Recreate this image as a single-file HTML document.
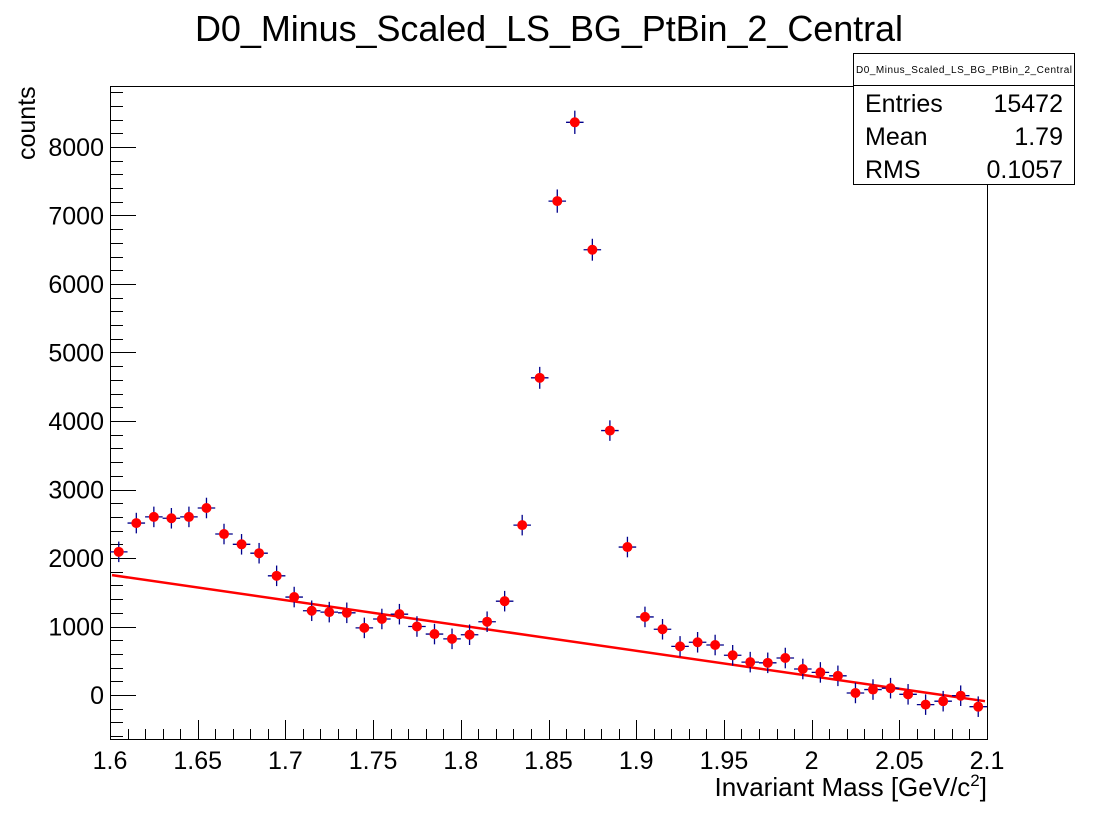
<!DOCTYPE html>
<html><head><meta charset="utf-8"><style>
body{margin:0;background:#fff;}
svg text{font-family:"Liberation Sans",sans-serif;}
</style></head><body>
<svg id="c" width="1096" height="822" xmlns="http://www.w3.org/2000/svg">
<rect width="1096" height="822" fill="#fff"/>
<text x="549" y="41" font-size="36" text-anchor="middle" textLength="708">D0_Minus_Scaled_LS_BG_PtBin_2_Central</text>
<g id="axes"></g>
<g id="fit"></g>
<g id="marks"></g>
<text x="987" y="796" font-size="26" text-anchor="end">Invariant Mass [GeV/c<tspan dy="-10" font-size="17">2</tspan><tspan dy="10">]</tspan></text>
<text transform="translate(35,160) rotate(-90)" font-size="25">counts</text>
<g>
<rect x="853.5" y="53.5" width="221" height="131" fill="#fff" stroke="#000" stroke-width="1"/>
<line x1="853.5" y1="85.5" x2="1074.5" y2="85.5" stroke="#000"/>
<text x="964" y="73" font-size="10" text-anchor="middle" textLength="216">D0_Minus_Scaled_LS_BG_PtBin_2_Central</text>
<text x="865" y="112" font-size="25">Entries</text><text x="1063" y="112" font-size="25" text-anchor="end">15472</text>
<text x="865" y="145" font-size="25">Mean</text><text x="1063" y="145" font-size="25" text-anchor="end">1.79</text>
<text x="865" y="178" font-size="25">RMS</text><text x="1063" y="178" font-size="25" text-anchor="end">0.1057</text>
</g>
</svg>
<script>
const binCenters=[1.605,1.615,1.625,1.635,1.645,1.655,1.665,1.675,1.685,1.695,1.705,1.715,1.725,1.735,1.745,1.755,1.765,1.775,1.785,1.795,1.805,1.815,1.825,1.835,1.845,1.855,1.865,1.875,1.885,1.895,1.905,1.915,1.925,1.935,1.945,1.955,1.965,1.975,1.985,1.995,2.005,2.015,2.025,2.035,2.045,2.055,2.065,2.075,2.085,2.095];
const counts=[2090,2510,2600,2580,2600,2730,2350,2200,2070,1740,1430,1230,1210,1200,980,1110,1180,1000,890,820,880,1070,1370,2480,4630,7210,8360,6500,3860,2160,1140,960,710,770,730,580,480,470,540,380,330,280,30,80,100,10,-140,-90,-10,-170];
const errors=[150,150,150,150,150,150,150,150,150,150,150,150,150,150,150,150,150,150,150,150,150,150,150,150,160,170,170,160,150,150,150,150,150,150,150,150,150,150,150,150,150,150,150,150,150,150,150,150,150,150];
const fitX=[1.6,2.1];
const fitY=[1750,-90];
const xTicks=[1.6,1.65,1.7,1.75,1.8,1.85,1.9,1.95,2,2.05,2.1];
const xTickLabels=["1.6","1.65","1.7","1.75","1.8","1.85","1.9","1.95","2","2.05","2.1"];
const yTicks=[0,1000,2000,3000,4000,5000,6000,7000,8000];
const yTickLabels=["0","1000","2000","3000","4000","5000","6000","7000","8000"];
const X0=110,X1=987,Y0=739,Y1=86;
const xmin=1.6,xmax=2.1,ymin=-642,ymax=8890;
const sx=v=>X0+(v-xmin)/(xmax-xmin)*(X1-X0);
const sy=v=>Y0-(v-ymin)/(ymax-ymin)*(Y0-Y1);
const NS="http://www.w3.org/2000/svg";
function mk(t,a,p){const e=document.createElementNS(NS,t);for(const k in a)e.setAttribute(k,a[k]);p.appendChild(e);return e;}
const ax=document.getElementById('axes');
const fr=mk('rect',{x:X0+.5,y:Y1+.5,width:X1-X0,height:Y0-Y1,fill:'none',stroke:'#000'},ax);


for(let i=0;i<=50;i++){const v=1.6+i*0.01;const x=Math.round(sx(v))+.5;const maj=i%5===0;
mk('line',{x1:x,y1:Y0,x2:x,y2:Y0-(maj?19:10),stroke:'#000'},ax);}
xTicks.forEach((v,i)=>{const t=mk('text',{x:sx(v),y:Y0+30,'font-size':25,'text-anchor':'middle'},ax);t.textContent=xTickLabels[i];

});
for(let v=-600;v<=8800;v+=200){const y=Math.round(sy(v))+.5;const maj=v%1000===0;
mk('line',{x1:X0,y1:y,x2:X0+(maj?26:13),y2:y,stroke:'#000'},ax);}
yTicks.forEach((v,i)=>{const t=mk('text',{x:X0-6,y:sy(v)+9,'font-size':25,'text-anchor':'end'},ax);t.textContent=yTickLabels[i];

});
const fit=document.getElementById('fit');
const fl=mk('line',{x1:sx(fitX[0])+2,y1:sy(fitY[0]),x2:sx(fitX[1])-2,y2:sy(fitY[1]),stroke:'#f00','stroke-width':2.5},fit);


const mg=document.getElementById('marks');
binCenters.forEach((c,i)=>{const g=mk('g',{},mg);


const x=sx(c),y=sy(counts[i]);
mk('line',{x1:sx(c-0.005),y1:y,x2:sx(c+0.005),y2:y,stroke:'#00008b','stroke-width':1.3},g);
mk('line',{x1:x,y1:sy(counts[i]-errors[i]),x2:x,y2:sy(counts[i]+errors[i]),stroke:'#00008b','stroke-width':1.3},g);
mk('circle',{cx:x,cy:y,r:5,fill:'#f00'},g);});
</script>
</body></html>
